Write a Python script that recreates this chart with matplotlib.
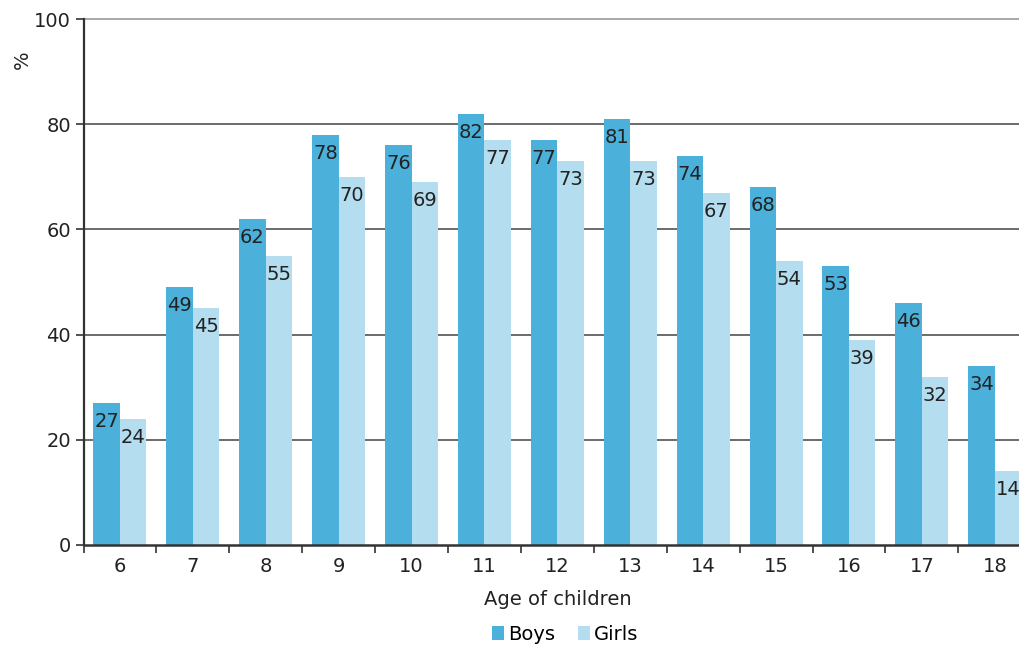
import numpy as np
import matplotlib.pyplot as plt
from matplotlib.ticker import FixedLocator

plt.rcParams['font.family'] = ['DejaVu Sans']

ages = ["6", "7", "8", "9", "10", "11", "12", "13", "14", "15", "16", "17", "18"]
boys = [27, 49, 62, 78, 76, 82, 77, 81, 74, 68, 53, 46, 34]
girls = [24, 45, 55, 70, 69, 77, 73, 73, 67, 54, 39, 32, 14]

c_boys = "#4bb0da"
c_girls = "#b4deef"
fs = 14

fig = plt.figure(figsize=(10.19, 6.45), dpi=100)
W, H = 1019, 645
ax = fig.add_axes([83.5 / W, 100 / H, (13 * 72.9) / W, 526 / H])

x = np.arange(len(ages))
w = 0.364
b1 = ax.bar(x - w / 2, boys, w, color=c_boys, label="Boys", zorder=2)
b2 = ax.bar(x + w / 2, girls, w, color=c_girls, label="Girls", zorder=2)

for bars, vals in ((b1, boys), (b2, girls)):
    for r, v in zip(bars, vals):
        ax.annotate(str(v), (r.get_x() + r.get_width() / 2, v),
                    xytext=(0, -6.5), textcoords="offset points",
                    ha="center", va="top", fontsize=fs, color="#222222", zorder=3)

ax.set_xlim(-0.5, len(ages) - 0.5)
ax.set_ylim(0, 100)
ax.set_yticks([0, 20, 40, 60, 80, 100])
ax.set_xticks(x)
ax.set_xticklabels(ages)
ax.xaxis.set_minor_locator(FixedLocator(np.arange(-0.5, len(ages), 1.0)))
ax.tick_params(axis="x", which="major", length=0, pad=9, labelsize=fs, colors="#222222")
ax.tick_params(axis="x", which="minor", length=6, width=1.2, color="#333333")
ax.tick_params(axis="y", length=6, width=1.2, color="#333333", labelsize=fs,
               labelcolor="#222222", pad=3)

for yv in [20, 40, 60, 80]:
    ax.axhline(yv, color="#444444", lw=1.1, zorder=1)
ax.axhline(100, color="#999999", lw=1.2, zorder=1, clip_on=False)

for s in ["top", "right"]:
    ax.spines[s].set_visible(False)
ax.spines["left"].set_linewidth(1.6)
ax.spines["left"].set_color("#333333")
ax.spines["bottom"].set_linewidth(1.8)
ax.spines["bottom"].set_color("#333333")
ax.spines["bottom"].set_zorder(4)

ax.set_xlabel("Age of children", fontsize=fs, color="#222222", labelpad=10)
fig.text(22 / W, 1 - 60 / H, "%", rotation=90, fontsize=fs, color="#222222",
         ha="center", va="center")

fig.legend(handles=[b1, b2], loc="center", bbox_to_anchor=(565 / W, 11 / H),
           ncol=2, frameon=False, fontsize=fs, handlelength=0.6, handleheight=0.7,
           handletextpad=0.2, columnspacing=1.2)

fig.savefig("out.png", dpi=100)
